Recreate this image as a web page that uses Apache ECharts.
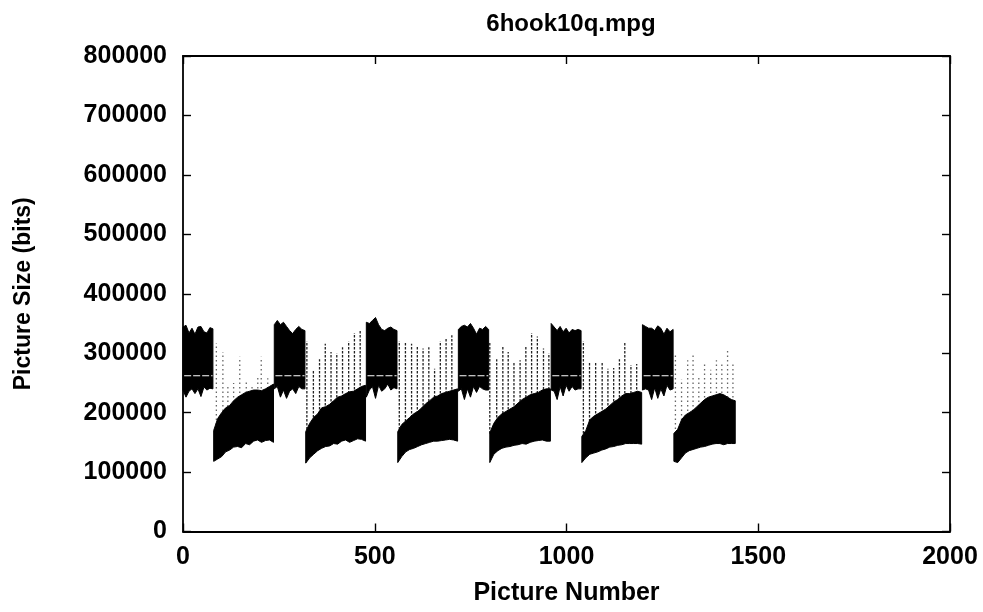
<!DOCTYPE html>
<html>
<head>
<meta charset="utf-8">
<script src="https://cdn.jsdelivr.net/npm/echarts@6/dist/echarts.min.js"></script>
<style>html,body{margin:0;padding:0;background:#fff}#c{width:983px;height:612px}</style>
</head>
<body>
<div id="c"></div>
<script>
// ---- data (picture sizes in thousands of bits) ----
const chartTitle = '6hook10q.mpg';
const xName = 'Picture Number';
const yName = 'Picture Size (bits)';
const xTickValues = [0, 500, 1000, 1500, 2000];
const yTickValues = [0, 100000, 200000, 300000, 400000, 500000, 600000, 700000, 800000];

// high (dense upper) segments: frame ranges and envelope samples
const highStart = [0, 238, 478, 718, 960, 1198];
const highEnd   = [78, 318, 558, 797, 1038, 1278];
const highTop = [
  [344, 347, 334, 342, 332, 344, 345, 336, 334, 343, 341],
  [348, 355, 348, 352, 345, 338, 333, 340, 345, 340, 338],
  [352, 350, 355, 360, 348, 340, 338, 342, 344, 340, 338],
  [340, 345, 347, 344, 350, 342, 332, 342, 340, 345, 340],
  [350, 344, 338, 345, 336, 342, 334, 340, 338, 340, 338],
  [348, 345, 342, 342, 338, 346, 342, 332, 342, 336, 340]
];
const highBottom = [
  [238, 226, 236, 240, 232, 240, 227, 243, 238, 241, 240],
  [240, 244, 226, 238, 224, 236, 240, 232, 244, 240, 240],
  [226, 238, 244, 224, 246, 236, 240, 248, 238, 242, 240],
  [236, 240, 222, 240, 226, 244, 234, 244, 240, 238, 238],
  [238, 236, 222, 244, 228, 246, 236, 244, 238, 240, 240],
  [238, 240, 238, 222, 242, 224, 240, 228, 246, 238, 240]
];
const gapLevel = 262; // thin empty row inside the high segments

// low (dense lower) segments
const lowStart = [80, 320, 560, 800, 1040, 1280];
const lowEnd   = [236, 476, 716, 958, 1196, 1440];
const lowTop = [
  [170, 190, 200, 208, 212, 220, 226, 230, 234, 236, 238, 238, 237, 240, 244, 248],
  [168, 182, 192, 198, 208, 210, 214, 220, 226, 228, 232, 235, 236, 240, 244, 246],
  [168, 180, 186, 192, 198, 202, 208, 215, 220, 226, 228, 232, 234, 236, 238, 240],
  [166, 182, 192, 198, 202, 206, 210, 216, 222, 226, 230, 232, 234, 238, 240, 240],
  [160, 170, 188, 194, 198, 202, 206, 212, 218, 222, 228, 232, 232, 234, 236, 234],
  [165, 172, 188, 196, 200, 204, 210, 216, 222, 226, 228, 230, 232, 230, 226, 222, 220]
];
const lowBottom = [
  [118, 122, 126, 134, 137, 142, 143, 141, 148, 146, 152, 154, 150, 153, 154, 150],
  [115, 124, 130, 136, 140, 143, 144, 148, 147, 152, 154, 150, 153, 156, 155, 152],
  [116, 126, 134, 138, 140, 143, 146, 148, 150, 152, 152, 153, 154, 155, 154, 152],
  [116, 130, 136, 140, 142, 143, 145, 146, 148, 147, 150, 152, 153, 154, 152, 152],
  [116, 124, 130, 132, 134, 137, 139, 142, 143, 145, 146, 148, 148, 148, 148, 147],
  [118, 116, 124, 132, 136, 138, 140, 142, 143, 145, 147, 148, 148, 146, 148, 148, 148]
];

// sparse tall pictures inside the low segments: [picture number, size]
const spikes = [
  [[87,317],[104,302],[117,245],[132,250],[148,294],[165,255],[180,248],[195,262],[204,294],[221,258]],
  [[323,320],[340,270],[356,290],[371,316],[386,302],[401,300],[416,310],[432,320],[447,334],[462,340]],
  [[564,320],[580,319],[596,316],[611,313],[626,308],[641,310],[656,274],[671,320],[686,324],[701,330]],
  [[800,319],[818,290],[834,312],[848,302],[863,286],[879,288],[894,312],[909,334],[924,328],[940,308],[954,300]],
  [[1044,320],[1060,286],[1076,284],[1093,286],[1108,274],[1123,275],[1138,290],[1152,319],[1168,280],[1183,282]],
  [[1284,297],[1300,256],[1316,288],[1330,300],[1345,262],[1360,286],[1376,272],[1391,288],[1405,286],[1420,308],[1434,286]]
];

// ---- drawing ----
const K = 1000;
const FONT = '"Liberation Sans", Arial, Helvetica, sans-serif';

function bandPoints(s, e, tops, bots, api) {
  const n = tops.length, pts = [];
  for (let k = 0; k < n; k++) pts.push(api.coord([s + (e - s) * k / (n - 1), tops[k] * K]));
  for (let k = n - 1; k >= 0; k--) pts.push(api.coord([s + (e - s) * k / (n - 1), bots[k] * K]));
  return pts;
}

const highData = highStart.map((s, i) => [s, highEnd[i], Math.min(...highBottom[i]) * K, Math.max(...highTop[i]) * K, i]);
const lowData = lowStart.map((s, i) => [s, lowEnd[i], Math.min(...lowBottom[i]) * K, Math.max(...lowTop[i]) * K, i]);
const spikeData = [];
spikes.forEach((arr, b) => arr.forEach(p => spikeData.push([p[0], p[1] * K, b])));

const chart = echarts.init(document.getElementById('c'), null, {renderer: 'canvas'});
const axisCommon = {
  type: 'value',
  axisLine: {show: true, onZero: false, lineStyle: {color: '#000', width: 1.8}},
  axisTick: {show: true, inside: true, length: 8, lineStyle: {color: '#000', width: 1.4}},
  splitLine: {show: false}
};
const labelStyle = {fontFamily: FONT, fontWeight: 'bold', fontSize: 25, color: '#000', formatter: v => String(v)};
chart.setOption({
  animation: false,
  backgroundColor: '#fff',
  title: {
    text: chartTitle, left: 566, top: 7, textAlign: 'center',
    textStyle: {fontFamily: FONT, fontWeight: 'bold', fontSize: 24, color: '#000'}
  },
  grid: {left: 183, right: 33, top: 56, bottom: 80.5, containLabel: false},
  xAxis: [
    Object.assign({}, axisCommon, {
      min: xTickValues[0], max: xTickValues[xTickValues.length - 1], interval: 500, position: 'bottom',
      name: xName, nameLocation: 'middle', nameGap: 49,
      nameTextStyle: {fontFamily: FONT, fontWeight: 'bold', fontSize: 25, color: '#000'},
      axisLabel: Object.assign({margin: 13}, labelStyle)
    }),
    Object.assign({}, axisCommon, {
      min: xTickValues[0], max: xTickValues[xTickValues.length - 1], interval: 500, position: 'top',
      axisLabel: {show: false}
    })
  ],
  yAxis: [
    Object.assign({}, axisCommon, {
      min: yTickValues[0], max: yTickValues[yTickValues.length - 1], interval: 100000, position: 'left',
      name: yName, nameLocation: 'middle', nameGap: 148, nameRotate: 90,
      nameTextStyle: {fontFamily: FONT, fontWeight: 'bold', fontSize: 23, color: '#000'},
      axisLabel: Object.assign({margin: 16}, labelStyle)
    }),
    Object.assign({}, axisCommon, {
      min: yTickValues[0], max: yTickValues[yTickValues.length - 1], interval: 100000, position: 'right',
      axisLabel: {show: false}
    })
  ],
  series: [
    {
      type: 'custom', name: 'spikes', xAxisIndex: 0, yAxisIndex: 0, z: 2,
      encode: {x: 0, y: 1},
      data: spikeData,
      renderItem: function (params, api) {
        const b = api.value(2);
        const light = (b === 0 || b === 5);
        const p0 = api.coord([api.value(0), 165 * K]);
        const p1 = api.coord([api.value(0), api.value(1)]);
        return {
          type: 'line',
          shape: {x1: p0[0], y1: p0[1], x2: p1[0], y2: p1[1]},
          style: {stroke: light ? '#666' : '#222', lineWidth: 1.3, lineDash: light ? [1.5, 3] : [2.5, 1.5]}
        };
      }
    },
    {
      type: 'custom', name: 'low', xAxisIndex: 0, yAxisIndex: 0, z: 3,
      encode: {x: [0, 1], y: [2, 3]},
      data: lowData,
      renderItem: function (params, api) {
        const i = api.value(4);
        return {
          type: 'polygon',
          shape: {points: bandPoints(lowStart[i], lowEnd[i], lowTop[i], lowBottom[i], api)},
          style: {fill: '#000', stroke: '#000', lineWidth: 1}
        };
      }
    },
    {
      type: 'custom', name: 'high', xAxisIndex: 0, yAxisIndex: 0, z: 3,
      encode: {x: [0, 1], y: [2, 3]},
      data: highData,
      renderItem: function (params, api) {
        const i = api.value(4);
        const a = api.coord([highStart[i] + 3, gapLevel * K]);
        const c = api.coord([highEnd[i] - 1, gapLevel * K]);
        return {
          type: 'group',
          children: [
            {
              type: 'polygon',
              shape: {points: bandPoints(highStart[i], highEnd[i], highTop[i], highBottom[i], api)},
              style: {fill: '#000', stroke: '#000', lineWidth: 1}
            },
            {
              type: 'line', z2: 5,
              shape: {x1: a[0], y1: a[1], x2: c[0], y2: c[1]},
              style: {stroke: '#fff', lineWidth: 1.2, lineDash: [7, 2]}
            }
          ]
        };
      }
    }
  ]
});
</script>
</body>
</html>
